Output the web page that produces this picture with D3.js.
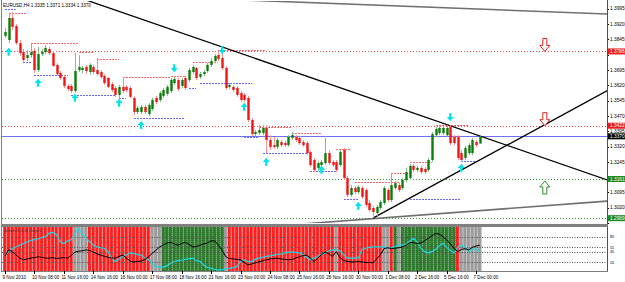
<!DOCTYPE html>
<html>
<head>
<meta charset="utf-8">
<script src="https://cdn.jsdelivr.net/npm/d3@7"></script>
<style>
  body { margin: 0; background: #fff; }
  svg { display: block; }
  text { font-family: "Liberation Sans", Arial, sans-serif; }
</style>
</head>
<body>
<div id="chart"></div>
<script>
// EURUSD H4, 9 Nov 2010 - 7 Dec 2010 (130 bars)
var open = [1.3862,1.3842,1.3950,1.3911,1.3827,1.3783,1.3754,1.3768,1.3788,1.3695,
  1.3773,1.3783,1.3798,1.3778,1.3720,1.3680,1.3661,1.3617,1.3617,1.3592,
  1.3695,1.3695,1.3710,1.3685,1.3710,1.3695,1.3685,1.3666,1.3656,1.3626,
  1.3607,1.3573,1.3612,1.3612,1.3607,1.3558,1.3489,1.3489,1.3514,1.3479,
  1.3504,1.3558,1.3548,1.3568,1.3578,1.3592,1.3631,1.3646,1.3617,1.3656,
  1.3646,1.3685,1.3705,1.3661,1.3675,1.3690,1.3720,1.3739,1.3768,1.3754,
  1.3705,1.3612,1.3612,1.3607,1.3582,1.3573,1.3558,1.3450,1.3381,1.3386,
  1.3386,1.3411,1.3352,1.3327,1.3318,1.3342,1.3337,1.3327,1.3362,1.3367,
  1.3362,1.3342,1.3337,1.3293,1.3254,1.3215,1.3229,1.3239,1.3288,1.3244,
  1.3244,1.3229,1.3303,1.3166,1.3083,1.3117,1.3097,1.3117,1.3107,1.3043,
  1.3019,1.2994,1.3019,1.3043,1.3107,1.3058,1.3117,1.3131,1.3117,1.3156,
  1.3166,1.3225,1.3205,1.3215,1.3210,1.3205,1.3254,1.3376,1.3386,1.3386,
  1.3376,1.3416,1.3367,1.3367,1.3288,1.3264,1.3288,1.3288,1.3342,1.3335];
var high = [1.3901,1.3974,1.3979,1.3920,1.3842,1.3798,1.3793,1.3822,1.3803,1.3808,
  1.3798,1.3818,1.3808,1.3788,1.3729,1.3690,1.3671,1.3626,1.3626,1.3778,
  1.3768,1.3715,1.3720,1.3729,1.3720,1.3754,1.3695,1.3675,1.3661,1.3636,
  1.3617,1.3622,1.3661,1.3622,1.3617,1.3568,1.3519,1.3524,1.3524,1.3533,
  1.3558,1.3568,1.3592,1.3607,1.3622,1.3656,1.3661,1.3656,1.3656,1.3666,
  1.3705,1.3720,1.3710,1.3685,1.3695,1.3729,1.3754,1.3773,1.3783,1.3786,
  1.3715,1.3631,1.3622,1.3617,1.3592,1.3582,1.3568,1.3460,1.3401,1.3425,
  1.3425,1.3425,1.3376,1.3367,1.3362,1.3352,1.3347,1.3376,1.3391,1.3376,
  1.3372,1.3352,1.3347,1.3303,1.3264,1.3249,1.3254,1.3362,1.3303,1.3254,
  1.3254,1.3303,1.3313,1.3176,1.3131,1.3127,1.3131,1.3127,1.3117,1.3058,
  1.3029,1.3034,1.3058,1.3127,1.3117,1.3190,1.3151,1.3141,1.3166,1.3215,
  1.3234,1.3234,1.3225,1.3225,1.3220,1.3264,1.3391,1.3416,1.3420,1.3420,
  1.3422,1.3425,1.3376,1.3376,1.3303,1.3323,1.3337,1.3362,1.3352,1.3371];
var low = [1.3852,1.3827,1.3891,1.3818,1.3764,1.3734,1.3739,1.3754,1.3680,1.3685,
  1.3764,1.3773,1.3768,1.3710,1.3666,1.3646,1.3607,1.3592,1.3582,1.3582,
  1.3685,1.3680,1.3675,1.3671,1.3675,1.3666,1.3651,1.3622,1.3607,1.3587,
  1.3563,1.3558,1.3582,1.3587,1.3558,1.3474,1.3479,1.3479,1.3479,1.3470,
  1.3494,1.3528,1.3538,1.3558,1.3568,1.3582,1.3622,1.3592,1.3607,1.3597,
  1.3636,1.3675,1.3646,1.3651,1.3666,1.3680,1.3710,1.3729,1.3739,1.3695,
  1.3597,1.3602,1.3587,1.3563,1.3538,1.3538,1.3440,1.3372,1.3372,1.3376,
  1.3376,1.3288,1.3303,1.3308,1.3308,1.3318,1.3318,1.3318,1.3352,1.3342,
  1.3327,1.3318,1.3278,1.3220,1.3195,1.3200,1.3220,1.3229,1.3229,1.3220,
  1.3195,1.3220,1.3156,1.3073,1.3073,1.3087,1.3087,1.3063,1.3024,1.2999,
  1.2970,1.2980,1.3009,1.3034,1.3048,1.3048,1.3107,1.3097,1.3107,1.3146,
  1.3156,1.3195,1.3195,1.3185,1.3185,1.3195,1.3244,1.3367,1.3376,1.3376,
  1.3367,1.3327,1.3327,1.3254,1.3244,1.3254,1.3278,1.3278,1.3318,1.3334];
var close = [1.3881,1.3950,1.3906,1.3827,1.3778,1.3744,1.3768,1.3783,1.3695,1.3773,
  1.3783,1.3803,1.3778,1.3715,1.3675,1.3656,1.3617,1.3602,1.3592,1.3690,
  1.3710,1.3705,1.3690,1.3720,1.3685,1.3675,1.3661,1.3631,1.3612,1.3597,
  1.3573,1.3612,1.3592,1.3597,1.3563,1.3489,1.3509,1.3514,1.3489,1.3524,
  1.3548,1.3538,1.3582,1.3597,1.3612,1.3646,1.3651,1.3602,1.3646,1.3607,
  1.3695,1.3710,1.3656,1.3675,1.3685,1.3720,1.3739,1.3764,1.3749,1.3705,
  1.3607,1.3622,1.3597,1.3573,1.3548,1.3548,1.3450,1.3381,1.3391,1.3401,
  1.3411,1.3352,1.3318,1.3318,1.3352,1.3327,1.3327,1.3367,1.3376,1.3352,
  1.3337,1.3327,1.3288,1.3229,1.3205,1.3239,1.3244,1.3288,1.3239,1.3229,
  1.3205,1.3293,1.3166,1.3083,1.3117,1.3097,1.3122,1.3073,1.3034,1.3009,
  1.2999,1.3024,1.3048,1.3117,1.3058,1.3131,1.3141,1.3107,1.3156,1.3195,
  1.3225,1.3205,1.3215,1.3195,1.3195,1.3254,1.3381,1.3406,1.3411,1.3411,
  1.3411,1.3337,1.3337,1.3264,1.3254,1.3313,1.3327,1.3352,1.3327,1.3370];

var priceTicks = [1.3995,1.3920,1.3845,1.3770,1.3695,1.3620,1.3545,1.3470,1.3395,1.3320,1.3245,1.3170,1.3095,1.3020,1.2945];
var timeLabels = ["9 Nov 2010","10 Nov 08:00","11 Nov 16:00","14 Nov 16:00","16 Nov 00:00","17 Nov 08:00",
  "18 Nov 16:00","21 Nov 16:00","23 Nov 00:00","24 Nov 08:00","25 Nov 16:00","28 Nov 16:00",
  "30 Nov 00:00","1 Dec 08:00","2 Dec 16:00","5 Dec 16:00","7 Dec 00:00"];

var resistLevels = [1.3786, 1.3422];
var supportLevels = [1.3161, 1.2969];
var lastPrice = 1.3370;

// fractal arrows [bar, price]
var upArrows = [[1,1.3783],[9,1.3631],[19,1.3558],[31,1.3533],[37,1.3425],[65,1.3514],[71,1.3244],[86,1.3205],[96,1.3029],[124,1.3215]];
var downArrows = [[46,1.3705],[59,1.3793],[121,1.3465]];

// dotted fractal levels [fromBar, toBar, price]
var redSegs = [[1,6,1.3974],[7,20,1.3827],[20,24,1.3783],[25,31,1.3749],[32,45,1.3661],[45,49,1.3666],
  [51,58,1.3734],[58,71,1.3793],[69,78,1.3416],[78,86,1.3386],[90,94,1.3308],[95,107,1.3146],
  [105,110,1.3190],[110,116,1.3244],[117,126,1.3425]];
var blueSegs = [[0,3,1.3994],[5,7,1.3734],[8,17,1.3671],[18,30,1.3573],[31,33,1.3558],[35,49,1.3460],
  [50,52,1.3607],[53,67,1.3631],[65,69,1.3367],[70,82,1.3288],[83,90,1.3200],[92,96,1.3063],
  [110,124,1.3063],[124,128,1.3249]];

// trend lines [bar1, price1, bar2, price2]
var blackLines = [[0,1.4175,170,1.3117],[100,1.2969,164,1.3597]];
var grayLines = [[60,1.4041,164,1.3969],[70,1.2926,164,1.3053]];

// big signal arrows (tip prices)
var sellSignals = [1.3786, 1.3422];
var buySignals = [1.3161];
var signalBar = 146.7;

// lower window
var stochMain = [35,49,45,37,30,26,28,30,31,33,32,30,30,31,29,30,31,30,36,44,
  46,47,49,48,44,40,37,34,32,30,30,34,37,30,23,21,22,23,27,33,
  41,48,56,60,65,67,63,60,64,67,62,56,57,60,63,65,70,70,60,48,
  33,29,28,27,26,20,14,16,19,21,24,26,28,29,30,28,27,26,27,30,
  33,36,37,30,22,30,38,44,40,34,45,32,25,22,21,21,22,21,20,20,
  19,28,38,52,54,52,53,54,56,60,66,66,64,65,70,76,82,87,86,80,
  72,64,53,45,50,52,49,55,58,60];
var stochSignal = [37,45,52,56,60,64,68,71,73,75,78,80,88,90,85,68,64,70,72,88,
  99,85,77,68,60,56,54,53,45,30,22,28,33,38,42,41,38,37,30,26,
  18,10,9,9,12,18,22,24,25,27,29,30,24,22,14,8,6,4,2,3,
  5,6,8,10,22,26,22,22,27,30,32,34,35,37,39,40,42,44,44,43,
  42,38,32,26,30,35,38,42,47,49,49,47,38,30,30,30,30,50,53,55,
  56,56,56,56,53,54,57,60,60,62,70,76,68,53,45,42,45,50,58,65,
  55,48,42,55,60,55,45,50,52,44];
var zones = ("rrrrrrrrrrrrrrrrrrr" + "nnnn" + "rrrrrrrrrrrrrrrrr" + "nnn" + "ggggggggggggggggg" + "n" +
  "rrrrrrrrrrrrrrrrrrrrrrrrrrrrr" + "n" + "rrrrrrrrrrrr" + "nn" + "r" + "g" + "n" +
  "ggggggggggggggg" + "r" + "nnnnnn").split("");
var stochLevels = [80, 55, 45, 20];

var W = 625, H = 282;
var plotR = 607;

var svg = d3.select("#chart").append("svg").attr("width", W).attr("height", H);
svg.append("rect").attr("width", W).attr("height", H).attr("fill", "#fff");

var x = d3.scaleLinear().domain([0, 129]).range([5, 479.7]);
var y = d3.scaleLinear().domain([1.29453, 1.4038]).range([223, 0]);
var yi = d3.scaleLinear().domain([0, 100]).range([271, 228]);

var defs = svg.append("defs");
defs.append("clipPath").attr("id", "mainClip").append("rect")
  .attr("x", 2).attr("y", 1).attr("width", plotR - 2).attr("height", 222);
defs.append("clipPath").attr("id", "indClip").append("rect")
  .attr("x", 2).attr("y", 227).attr("width", plotR - 2).attr("height", 44);

var main = svg.append("g").attr("clip-path", "url(#mainClip)");

function py(p) { return Math.round(y(p)) + 0.5; }

// full width horizontal levels
main.selectAll(".res").data(resistLevels).enter().append("line")
  .attr("x1", 2).attr("x2", plotR).attr("y1", py).attr("y2", py)
  .attr("stroke", "#f05050").attr("stroke-dasharray", "1,2");
main.selectAll(".sup").data(supportLevels).enter().append("line")
  .attr("x1", 2).attr("x2", plotR).attr("y1", py).attr("y2", py)
  .attr("stroke", "#2e9a2e").attr("stroke-dasharray", "1,2");
main.append("line")
  .attr("x1", 2).attr("x2", plotR).attr("y1", py(lastPrice)).attr("y2", py(lastPrice))
  .attr("stroke", "#7070f0");

// dotted fractal segments
function segs(data, color) {
  main.append("g").selectAll("line").data(data).enter().append("line")
    .attr("x1", function(d) { return Math.round(x(d[0])); })
    .attr("x2", function(d) { return Math.round(x(d[1])); })
    .attr("y1", function(d) { return py(d[2]); })
    .attr("y2", function(d) { return py(d[2]); })
    .attr("stroke", color).attr("stroke-width", 1.2).attr("stroke-dasharray", "2,1");
}
segs(redSegs, "#ff6a6a");
segs(blueSegs, "#6a6aff");

// trend lines
main.append("g").selectAll("line").data(grayLines).enter().append("line")
  .attr("x1", function(d) { return x(d[0]); }).attr("y1", function(d) { return y(d[1]); })
  .attr("x2", function(d) { return x(d[2]); }).attr("y2", function(d) { return y(d[3]); })
  .attr("stroke", "#707070").attr("stroke-width", 1.6);
main.append("g").selectAll("line").data(blackLines).enter().append("line")
  .attr("x1", function(d) { return x(d[0]); }).attr("y1", function(d) { return y(d[1]); })
  .attr("x2", function(d) { return x(d[2]); }).attr("y2", function(d) { return y(d[3]); })
  .attr("stroke", "#000").attr("stroke-width", 1.3);

// candles
var bars = d3.range(open.length);
var candle = main.append("g").selectAll("g").data(bars).enter().append("g");
candle.append("line")
  .attr("x1", function(i) { return Math.round(x(i)) + 0.5; })
  .attr("x2", function(i) { return Math.round(x(i)) + 0.5; })
  .attr("y1", function(i) { return y(high[i]); })
  .attr("y2", function(i) { return y(low[i]); })
  .attr("stroke", function(i) { return close[i] >= open[i] ? "#7fbf7f" : "#ff9090"; });
candle.append("rect")
  .attr("x", function(i) { return Math.round(x(i)) - 0.7; })
  .attr("width", 2.4)
  .attr("y", function(i) { return y(Math.max(open[i], close[i])); })
  .attr("height", function(i) { return Math.max(1, Math.abs(y(open[i]) - y(close[i]))); })
  .attr("fill", function(i) { return close[i] >= open[i] ? "#0b7d0b" : "#f01414"; });

// fractal arrows
function arrowPath(cx, cy, up) {
  var s = up ? 1 : -1;
  return "M" + (cx - 3.5) + "," + cy + "L" + cx + "," + (cy - 4.2 * s) + "L" + (cx + 3.5) + "," + cy +
    "L" + (cx + 1.2) + "," + cy + "L" + (cx + 1.2) + "," + (cy + 3.8 * s) +
    "L" + (cx - 1.2) + "," + (cy + 3.8 * s) + "L" + (cx - 1.2) + "," + cy + "Z";
}
main.append("g").selectAll("path").data(upArrows).enter().append("path")
  .attr("d", function(d) { return arrowPath(x(d[0]), y(d[1]), true); })
  .attr("fill", "#00e4ee");
main.append("g").selectAll("path").data(downArrows).enter().append("path")
  .attr("d", function(d) { return arrowPath(x(d[0]), y(d[1]), false); })
  .attr("fill", "#00e4ee");

// hollow signal arrows
function bigArrow(cx, ty, up) {
  var s = up ? -1 : 1;
  return "M" + (cx - 2) + "," + (ty - 13 * s) + "L" + (cx + 2) + "," + (ty - 13 * s) +
    "L" + (cx + 2) + "," + (ty - 6 * s) + "L" + (cx + 5) + "," + (ty - 6 * s) +
    "L" + cx + "," + ty + "L" + (cx - 5) + "," + (ty - 6 * s) +
    "L" + (cx - 2) + "," + (ty - 6 * s) + "Z";
}
main.append("g").selectAll("path").data(sellSignals).enter().append("path")
  .attr("d", function(d) { return bigArrow(x(signalBar), y(d), false); })
  .attr("fill", "#fff").attr("stroke", "#e02020");
main.append("g").selectAll("path").data(buySignals).enter().append("path")
  .attr("d", function(d) { return bigArrow(x(signalBar), y(d) + 2, true); })
  .attr("fill", "#fff").attr("stroke", "#2a8a2a");

svg.append("text").attr("x", 3).attr("y", 6.5).attr("font-size", 4.6).attr("fill", "#000")
  .text("EURUSD,H4  " + open[129].toFixed(4) + " " + high[129].toFixed(4) + " " + low[129].toFixed(4) + " " + close[129].toFixed(4));

// price axis; tick labels hidden under a tag are left out
var tags = resistLevels.concat(supportLevels, [lastPrice]);
var shownTicks = priceTicks.filter(function(t) {
  return tags.every(function(p) { return Math.abs(y(p) - y(t)) > 5; });
});
var axis = svg.append("g");
axis.selectAll("line").data(priceTicks).enter().append("line")
  .attr("x1", plotR).attr("x2", plotR + 2).attr("y1", py).attr("y2", py)
  .attr("stroke", "#000");
axis.selectAll("text").data(shownTicks).enter().append("text")
  .attr("x", 610).attr("y", function(d) { return y(d) + 1.7; })
  .attr("font-size", 4.8).attr("fill", "#000")
  .text(function(d) { return d.toFixed(4); });

function tag(p, bg) {
  var g = axis.append("g");
  g.append("rect").attr("x", plotR + 1).attr("y", y(p) - 3).attr("width", 18).attr("height", 6).attr("fill", bg);
  g.append("text").attr("x", 610).attr("y", y(p) + 1.7).attr("font-size", 4.8).attr("fill", "#fff").text(p.toFixed(4));
}
resistLevels.forEach(function(p) { tag(p, "#ee1c1c"); });
supportLevels.forEach(function(p) { tag(p, "#1f8a1f"); });
tag(lastPrice, "#000");

// lower window
var ind = svg.append("g").attr("clip-path", "url(#indClip)");
var zoneFill = { r: "#ff1e1e", g: "#2f7a2f", n: "#9c9c9c" };
var zoneGap = { r: "#ffb0b0", g: "#8fc88f", n: "#d0d0d0" };
ind.selectAll(".z").data(bars).enter().append("rect")
  .attr("x", function(i) { return x(i) - 1.84; }).attr("width", 3.7)
  .attr("y", 227).attr("height", 44)
  .attr("fill", function(i) { return zoneFill[zones[i]]; });
ind.selectAll(".zg").data(bars).enter().append("line")
  .attr("x1", function(i) { return x(i) + 1.6; }).attr("x2", function(i) { return x(i) + 1.6; })
  .attr("y1", 227).attr("y2", 271)
  .attr("stroke", function(i) { return zoneGap[zones[i]]; }).attr("stroke-width", 0.7)
  .attr("stroke-dasharray", function(i) { return zones[i] === "g" ? "1,1" : null; });
ind.selectAll(".lv").data(stochLevels).enter().append("line")
  .attr("x1", 2).attr("x2", plotR)
  .attr("y1", function(d) { return Math.round(yi(d)) + 0.5; })
  .attr("y2", function(d) { return Math.round(yi(d)) + 0.5; })
  .attr("stroke", "#555").attr("stroke-dasharray", "1,1.5");
var ln = d3.line().x(function(d, i) { return x(i); }).y(function(d) { return yi(d); });
ind.append("path").datum(stochSignal).attr("d", ln).attr("fill", "none").attr("stroke", "#19d8e6").attr("stroke-width", 1.2);
ind.append("path").datum(stochMain).attr("d", ln).attr("fill", "none").attr("stroke", "#000").attr("stroke-width", 1);
ind.append("text").attr("x", 4).attr("y", 232).attr("font-size", 4.4).attr("fill", "#333").text("Stoch(5,3,3) Zones");

axis.selectAll(".il").data(stochLevels).enter().append("text")
  .attr("x", 610).attr("y", function(d) { return yi(d) + 1.4; })
  .attr("font-size", 3.8).attr("fill", "#000").text(function(d) { return d; });

// frame
svg.append("line").attr("x1", 1.5).attr("x2", 1.5).attr("y1", 0).attr("y2", 272).attr("stroke", "#808080");
svg.append("line").attr("x1", plotR + 0.5).attr("x2", plotR + 0.5).attr("y1", 0).attr("y2", 272).attr("stroke", "#505050");
svg.append("rect").attr("x", 1).attr("y", 224).attr("width", plotR).attr("height", 3).attr("fill", "#808080");
svg.append("line").attr("x1", 1).attr("x2", plotR + 1).attr("y1", 271.5).attr("y2", 271.5).attr("stroke", "#808080");

// time axis
var tg = svg.append("g").selectAll("g").data(timeLabels).enter().append("g");
tg.append("line")
  .attr("x1", function(d, k) { return Math.round(x(k * 8)) + 0.5; })
  .attr("x2", function(d, k) { return Math.round(x(k * 8)) + 0.5; })
  .attr("y1", 271).attr("y2", 274).attr("stroke", "#000");
tg.append("text")
  .attr("x", function(d, k) { return x(k * 8) - 2.5; })
  .attr("y", 279).attr("font-size", 4.6).attr("fill", "#000")
  .text(function(d) { return d; });
</script>
</body>
</html>
